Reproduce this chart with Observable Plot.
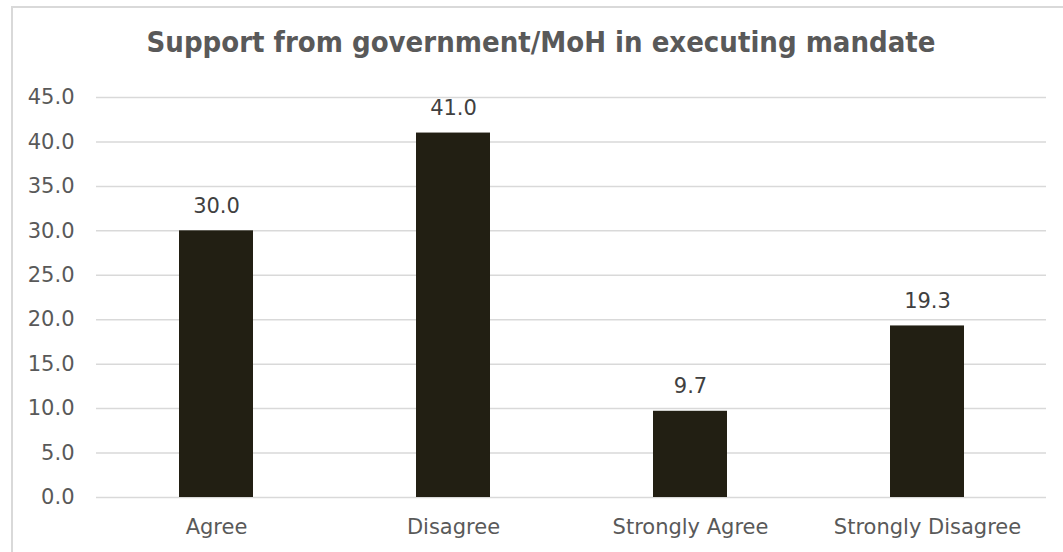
<!DOCTYPE html>
<html>
<head>
<meta charset="utf-8">
<script src="https://cdn.jsdelivr.net/npm/d3@7"></script>
<script src="https://cdn.jsdelivr.net/npm/@observablehq/plot@0.6"></script>
<style>
  html, body { margin: 0; padding: 0; background: #fff; }
  #wrap { position: relative; width: 1063px; height: 552px; overflow: hidden; }
  #frame { position: absolute; left: 11px; top: 6px; width: 1100px; height: 600px;
           border-left: 2px solid #d9d9d9; border-top: 2px solid #d9d9d9; box-sizing: border-box; }
  #title { position: absolute; left: 0; top: 28px; width: 1082px; text-align: center;
           font-family: "DejaVu Sans Condensed", "DejaVu Sans", sans-serif; font-weight: bold;
           font-size: 29px; line-height: 29px; color: #595959; }
  #chart { position: absolute; left: 0; top: 0; }
</style>
</head>
<body>
<div id="wrap">
  <div id="frame"></div>
  <div id="chart"></div>
  <div id="title">Support from government/MoH in executing mandate</div>
</div>
<script>
const categories = ["Agree", "Disagree", "Strongly Agree", "Strongly Disagree"];
const values = [30.0, 41.0, 9.7, 19.3];
const yTicks = [0, 5, 10, 15, 20, 25, 30, 35, 40, 45];

const data = categories.map((c, i) => ({category: c, value: values[i]}));

const chart = Plot.plot({
  width: 1063,
  height: 552,
  marginLeft: 96,
  marginRight: 17,
  marginTop: 97,
  marginBottom: 55,
  style: {fontFamily: "DejaVu Sans, sans-serif", fontSize: "21px", background: "transparent", overflow: "visible"},
  x: {domain: categories, paddingInner: 0.688, paddingOuter: 0.344, label: null},
  y: {domain: [0, 45], label: null},
  marks: [
    Plot.gridY(yTicks, {stroke: "#d9d9d9", strokeOpacity: 1, strokeWidth: 1.5}),
    Plot.axisY(yTicks, {tickSize: 0, tickPadding: 22, tickFormat: d => d.toFixed(1), fill: "#595959", fontSize: 21, label: null}),
    Plot.axisX({tickSize: 0, tickPadding: 22, fill: "#595959", fontSize: 21, label: null}),
    Plot.barY(data, {x: "category", y: "value", fill: "#221f13"}),
    Plot.text(data, {x: "category", y: "value", text: d => d.value.toFixed(1), dy: -18, lineAnchor: "bottom", fill: "#404040", fontSize: 21})
  ]
});
document.getElementById("chart").appendChild(chart);
</script>
</body>
</html>
